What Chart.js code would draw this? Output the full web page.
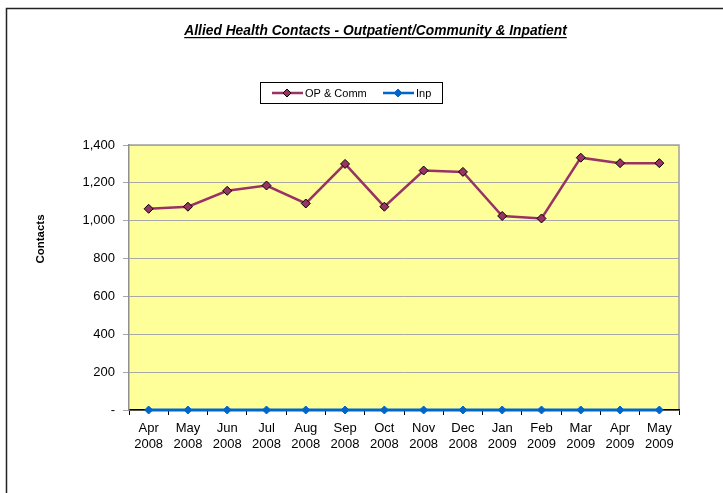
<!DOCTYPE html>
<html lang="en">
<head>
    <meta charset="UTF-8">
    <title>Allied Health Contacts</title>
    <script src="https://cdn.jsdelivr.net/npm/chart.js@4.4.1/dist/chart.umd.min.js"></script>
    <style>
      body { margin: 0; background: #fff; }
      canvas { display: block; }
    </style>
</head>
<body>
 <canvas id="myChart" width="723" height="493"></canvas>
 <script>
    const months = [['Apr','2008'],['May','2008'],['Jun','2008'],['Jul','2008'],['Aug','2008'],['Sep','2008'],['Oct','2008'],
                    ['Nov','2008'],['Dec','2008'],['Jan','2009'],['Feb','2009'],['Mar','2009'],['Apr','2009'],['May','2009']];
    const opComm = [1063, 1074, 1158, 1186, 1091, 1300, 1074, 1265, 1258, 1025, 1012, 1333, 1304, 1304];
    const inp = [0, 0, 0, 0, 0, 0, 0, 0, 0, 0, 0, 0, 0, 0];
    const chartTitle = 'Allied Health Contacts - Outpatient/Community & Inpatient';
    const yTitle = 'Contacts';

    const FONT = 'Arial, "Liberation Sans", sans-serif';

    // plot background, frame, titles and legend box
    const decor = {
      id: 'decor',
      beforeDraw(chart) {
        const {ctx, chartArea: a} = chart;
        ctx.save();
        ctx.fillStyle = '#FFFF99';
        ctx.fillRect(a.left, a.top, a.right - a.left, a.bottom - a.top);
        ctx.strokeStyle = '#A0A0A0';
        ctx.lineWidth = 1.5;
        ctx.beginPath();
        ctx.moveTo(a.left, a.top);
        ctx.lineTo(a.right, a.top);
        ctx.lineTo(a.right, a.bottom);
        ctx.stroke();
        ctx.restore();
      },
      afterDraw(chart) {
        const ctx = chart.ctx;
        ctx.save();
        // outer frame
        ctx.strokeStyle = '#222';
        ctx.lineWidth = 1.5;
        ctx.beginPath();
        ctx.moveTo(6.5, 493);
        ctx.lineTo(6.5, 8.5);
        ctx.lineTo(723, 8.5);
        ctx.stroke();

        // title
        ctx.font = 'italic bold 13.8px ' + FONT;
        ctx.fillStyle = '#000';
        ctx.textAlign = 'center';
        ctx.textBaseline = 'alphabetic';
        ctx.fillText(chartTitle, 375.5, 35);
        const w = ctx.measureText(chartTitle).width;
        ctx.fillRect(375.5 - w / 2, 37, w, 1.2);

        // y axis title
        ctx.save();
        ctx.translate(41, 239);
        ctx.rotate(-Math.PI / 2);
        ctx.font = 'bold 11.5px ' + FONT;
        ctx.textBaseline = 'middle';
        ctx.fillText(yTitle, 0, 0);
        ctx.restore();

        // legend
        ctx.strokeStyle = '#000';
        ctx.lineWidth = 1;
        ctx.strokeRect(260.5, 82.5, 182, 21);
        const items = [{x: 272, ds: chart.data.datasets[0]}, {x: 383, ds: chart.data.datasets[1]}];
        ctx.font = '11px ' + FONT;
        ctx.textAlign = 'left';
        ctx.textBaseline = 'middle';
        items.forEach(it => {
          const y = 93;
          ctx.strokeStyle = it.ds.borderColor;
          ctx.lineWidth = 2.5;
          ctx.beginPath();
          ctx.moveTo(it.x, y);
          ctx.lineTo(it.x + 31, y);
          ctx.stroke();
          const cx = it.x + 15, r = 4;
          ctx.beginPath();
          ctx.moveTo(cx, y - r); ctx.lineTo(cx + r, y); ctx.lineTo(cx, y + r); ctx.lineTo(cx - r, y); ctx.closePath();
          ctx.fillStyle = it.ds.pointBackgroundColor;
          ctx.fill();
          ctx.strokeStyle = it.ds.pointBorderColor;
          ctx.lineWidth = 1;
          ctx.stroke();
          ctx.fillStyle = '#000';
          ctx.fillText(it.ds.label, it.x + 33, y + 0.5);
        });
        ctx.restore();
      }
    };

    const ctx = document.getElementById('myChart').getContext('2d');
    const myChart = new Chart(ctx, {
      type: 'line',
      data: {
        labels: months,
        datasets: [
          {
            label: 'OP & Comm',
            data: opComm,
            borderColor: '#993366',
            borderWidth: 2.5,
            pointStyle: 'rectRot',
            pointRadius: 4.5,
            pointBackgroundColor: '#993366',
            pointBorderColor: '#000',
            pointBorderWidth: 1,
            tension: 0
          },
          {
            label: 'Inp',
            data: inp,
            borderColor: '#0066CC',
            borderWidth: 3,
            pointStyle: 'rectRot',
            pointRadius: 4,
            pointBackgroundColor: '#0066CC',
            pointBorderColor: '#0066CC',
            pointBorderWidth: 1,
            tension: 0,
            clip: false
          }
        ]
      },
      options: {
        responsive: false,
        animation: false,
        layout: { padding: { left: 0, top: 145, right: 44, bottom: 0 } },
        plugins: {
          legend: { display: false },
          title: { display: false },
          tooltip: { enabled: false }
        },
        scales: {
          x: {
            offset: true,
            afterFit: s => { s.height = 83; },
            grid: { drawOnChartArea: false, offset: true, tickLength: 5, color: '#000' },
            border: { color: '#000', width: 1.5 },
            ticks: { color: '#000', font: { family: FONT, size: 13 }, padding: 6, maxRotation: 0, autoSkip: false }
          },
          y: {
            min: 0,
            max: 1400,
            afterFit: s => { s.width = 129; },
            border: { color: '#909090', width: 1.5 },
            grid: { color: '#A8A8A8', tickLength: 6, lineWidth: 1 },
            ticks: {
              stepSize: 200,
              color: '#000',
              padding: 8,
              font: { family: FONT, size: 13 },
              callback: v => v === 0 ? '-' : v.toLocaleString('en-US')
            }
          }
        }
      },
      plugins: [decor]
    });
 </script>
</body>
</html>
